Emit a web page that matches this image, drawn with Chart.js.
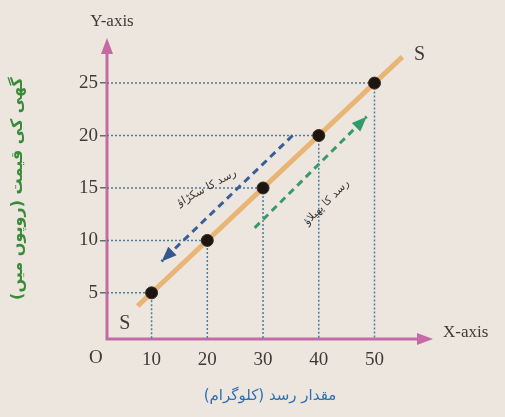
<!DOCTYPE html>
<html>
<head>
<meta charset="utf-8">
<script src="https://cdn.jsdelivr.net/npm/chart.js@4/dist/chart.umd.min.js"></script>
<style>
  html, body { margin: 0; padding: 0; background: #ece6de; }
  #wrap { width: 505px; height: 417px; }
</style>
</head>
<body>
<div id="wrap"><canvas id="myChart" width="505" height="417"></canvas></div>
<script>
// supply schedule (kg, rupees)
const quantity = [10, 20, 30, 40, 50];
const price = [5, 10, 15, 20, 25];
const xTicks = [10, 20, 30, 40, 50];
const yTicks = [5, 10, 15, 20, 25];

// SS line end points
const lineX = [7.5, 55];
const lineY = [3.75, 27.5];

// contraction arrow (down) and extension arrow (up)
const contractX = [35.3, 11.8];
const contractY = [20.0, 8.0];
const extendX = [28.5, 48.6];
const extendY = [11.2, 21.8];

// text positions [x, y]
const lowS = [5.2, 2.1];
const highS = [58.1, 27.7];
const contractText = [19.9, 15.0];
const extendText = [41.4, 13.6];

const X_MIN = 2, X_MAX = 60.5, Y_MIN = 0.6, Y_MAX = 29.3;

const pts = (xs, ys) => xs.map((x, i) => ({ x: x, y: ys[i] }));

const guides = quantity.map((q, i) => ({
  type: "line",
  data: [
    { x: X_MIN, y: price[i] },
    { x: q, y: price[i] },
    { x: q, y: Y_MIN },
  ],
  borderColor: "#4d7c9c",
  borderWidth: 1.5,
  borderDash: [2, 2],
  pointRadius: 0,
  fill: false,
}));

const arrowDs = (xs, ys, color) => ({
  type: "line",
  data: pts(xs, ys),
  borderColor: color,
  borderWidth: 3,
  borderDash: [7, 5],
  pointRadius: 0,
  fill: false,
});

const arrowHead = (ctx, x1, y1, x2, y2, len, wid, color) => {
  const a = Math.atan2(y2 - y1, x2 - x1);
  ctx.save();
  ctx.translate(x2, y2);
  ctx.rotate(a);
  ctx.beginPath();
  ctx.moveTo(0, 0);
  ctx.lineTo(-len, wid / 2);
  ctx.lineTo(-len, -wid / 2);
  ctx.closePath();
  ctx.fillStyle = color;
  ctx.fill();
  ctx.restore();
};

//*** axes with arrow heads, drawn under the data
const axesPlugin = {
  id: "axes",
  beforeDatasetsDraw(chart) {
    const { ctx, chartArea: a } = chart;
    ctx.save();
    ctx.strokeStyle = "#c56aa4";
    ctx.lineWidth = 3;
    ctx.beginPath();
    ctx.moveTo(a.left, a.top + 10);
    ctx.lineTo(a.left, a.bottom);
    ctx.lineTo(a.right - 10, a.bottom);
    ctx.stroke();
    ctx.restore();
    arrowHead(ctx, a.left, a.bottom, a.left, a.top, 16, 12, "#c56aa4");
    arrowHead(ctx, a.left, a.bottom, a.right, a.bottom, 16, 12, "#c56aa4");
  },
  afterDatasetsDraw(chart) {
    const { ctx, chartArea: a, scales } = chart;
    const px = (v) => scales.x.getPixelForValue(v);
    const py = (v) => scales.y.getPixelForValue(v);

    // arrow heads at the end of the dashed arrows
    const n = contractX.length - 1;
    arrowHead(ctx, px(contractX[n - 1]), py(contractY[n - 1]), px(contractX[n]), py(contractY[n]), 15, 12, "#34578f");
    arrowHead(ctx, px(extendX[n - 1]), py(extendY[n - 1]), px(extendX[n]), py(extendY[n]), 15, 12, "#2f9a6c");

    ctx.save();
    ctx.fillStyle = "#3d3a38";
    ctx.font = '20px "Liberation Serif"';
    ctx.textAlign = "center";
    ctx.textBaseline = "middle";
    ctx.fillText("S", px(lowS[0]), py(lowS[1]));
    ctx.fillText("S", px(highS[0]), py(highS[1]));
    ctx.font = '19px "Liberation Serif"';
    ctx.fillText("O", px(0), a.bottom + 19);

    ctx.font = '17px "Liberation Serif"';
    ctx.fillText("Y-axis", a.left + 5, a.top - 16);
    ctx.textAlign = "left";
    ctx.fillText("X-axis", a.right + 10, a.bottom - 6);

    // labels along the arrows
    ctx.font = '11px "DejaVu Sans"';
    ctx.fillStyle = "#3a3a3a";
    ctx.textAlign = "center";
    ctx.save();
    ctx.translate(px(contractText[0]), py(contractText[1]));
    ctx.rotate(-0.5);
    ctx.fillText("رسد کا سکڑاؤ", 0, 0);
    ctx.restore();
    ctx.save();
    ctx.translate(px(extendText[0]), py(extendText[1]));
    ctx.rotate(-0.78);
    ctx.fillText("رسد کا پھیلاؤ", 0, 0);
    ctx.restore();
    ctx.restore();
  },
};

const config = {
  type: "scatter",
  data: {
    datasets: [
      {
        type: "scatter",
        data: pts(quantity, price),
        backgroundColor: "#1c1511",
        borderColor: "#3a2a1c",
        borderWidth: 1,
        pointRadius: 6,
      },
      {
        type: "line",
        data: pts(lineX, lineY),
        borderColor: "#e8b577",
        borderWidth: 5,
        pointRadius: 0,
        fill: false,
      },
      arrowDs(contractX, contractY, "#3a5f98"),
      arrowDs(extendX, extendY, "#3a9a6a"),
      ...guides,
    ],
  },
  options: {
    responsive: false,
    animation: false,
    layout: { padding: { top: 38, right: 72, left: 0, bottom: 0 } },
    plugins: { legend: { display: false }, tooltip: { enabled: false } },
    scales: {
      x: {
        type: "linear",
        min: X_MIN,
        max: X_MAX,
        afterFit: (s) => { s.height = 78; },
        afterBuildTicks: (s) => { s.ticks = xTicks.map((v) => ({ value: v })); },
        grid: { display: false },
        border: { display: false },
        ticks: {
          autoSkip: false,
          maxRotation: 0,
          padding: 2,
          color: "#3d3a38",
          font: { family: '"Liberation Serif"', size: 19 },
        },
        title: {
          display: true,
          text: "مقدار رسد (کلوگرام)",
          color: "#2f6fb5",
          font: { family: '"DejaVu Sans"', size: 15 },
          padding: { top: 0, bottom: 12 },
        },
      },
      y: {
        type: "linear",
        min: Y_MIN,
        max: Y_MAX,
        afterFit: (s) => { s.width = 107; },
        afterBuildTicks: (s) => { s.ticks = yTicks.map((v) => ({ value: v })); },
        grid: { display: true, drawOnChartArea: false, drawTicks: true, tickLength: 7, color: "#6a6a6a", lineWidth: 1.5 },
        border: { display: false },
        ticks: {
          autoSkip: false,
          padding: 2,
          color: "#3d3a38",
          font: { family: '"Liberation Serif"', size: 19 },
        },
        title: {
          display: true,
          text: "گھی کی قیمت (روپوں میں)",
          color: "#3b8a3c",
          font: { family: '"DejaVu Sans"', size: 16, weight: "bold" },
          padding: { top: 8, bottom: 0 },
        },
      },
    },
  },
  plugins: [axesPlugin],
};

const myChart = new Chart(document.getElementById("myChart"), config);
</script>
</body>
</html>
